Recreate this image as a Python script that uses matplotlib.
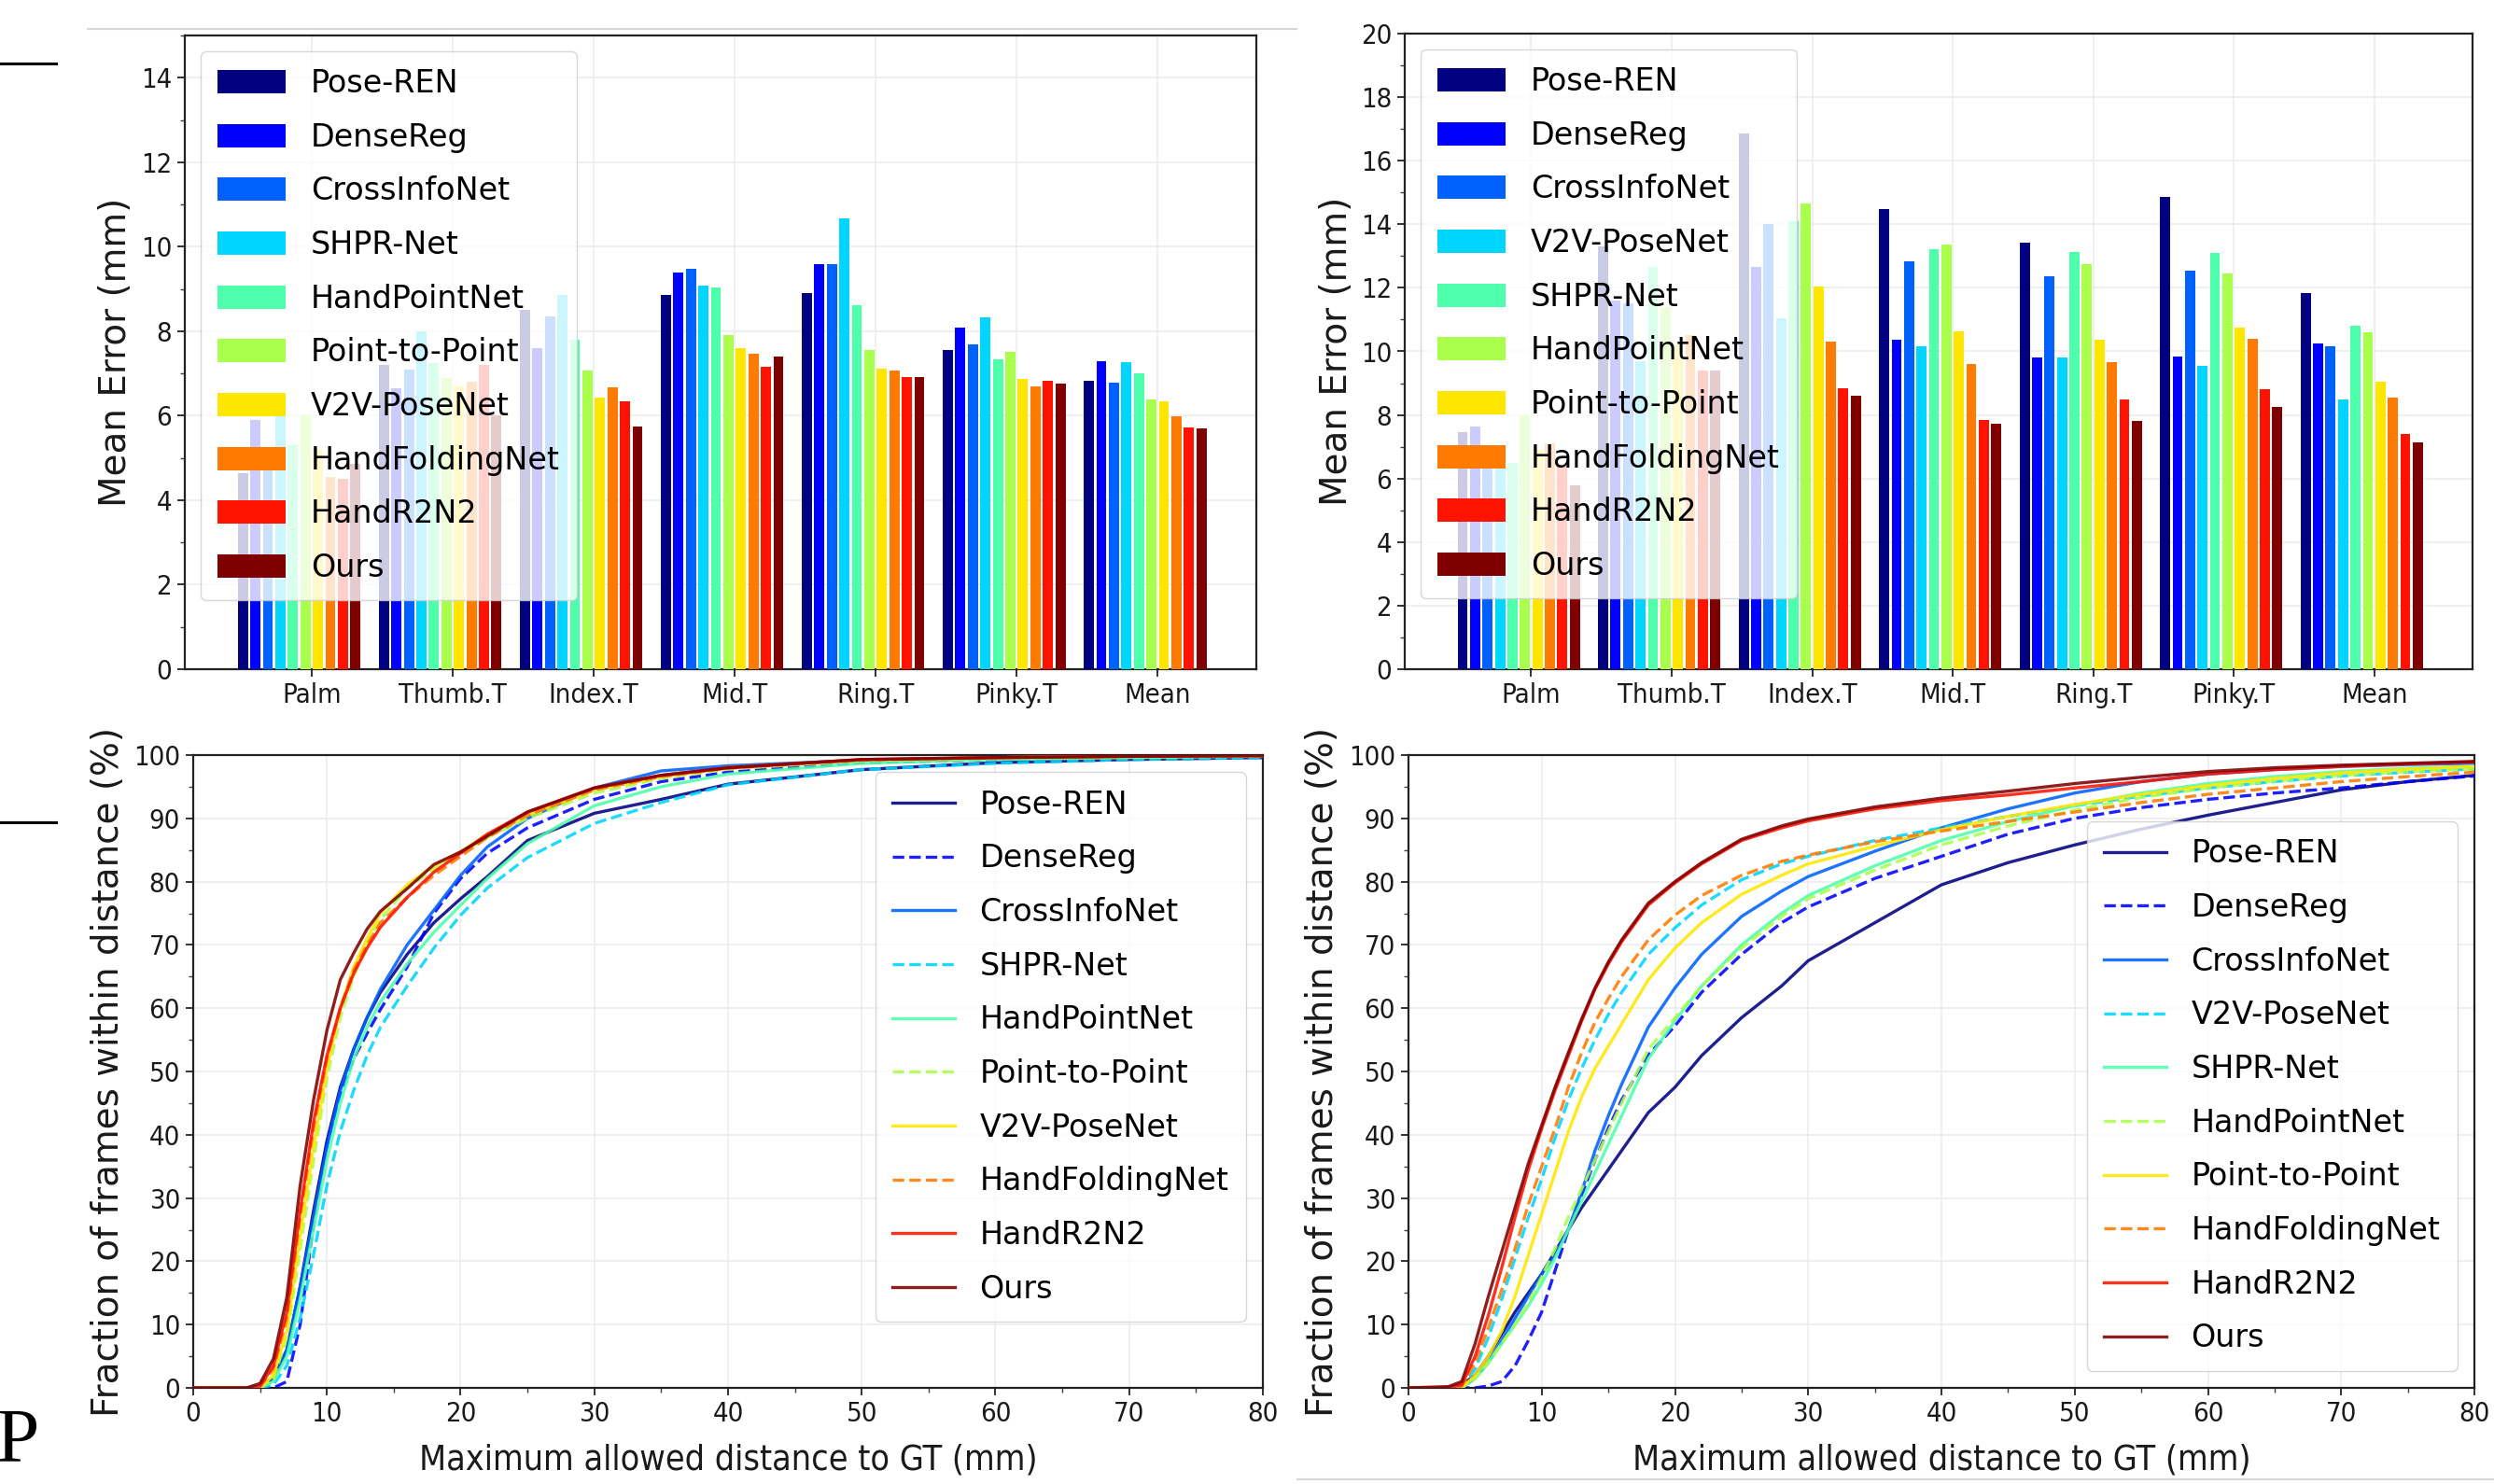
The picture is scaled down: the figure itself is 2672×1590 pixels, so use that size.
import numpy as np
import matplotlib
matplotlib.use("Agg")
import matplotlib.pyplot as plt
from matplotlib.lines import Line2D
from matplotlib.ticker import MultipleLocator
from matplotlib.font_manager import FontProperties

# ---------------- data ----------------
categories = ["Palm", "Thumb.T", "Index.T", "Mid.T", "Ring.T", "Pinky.T", "Mean"]

methods_left = ["Pose-REN", "DenseReg", "CrossInfoNet", "SHPR-Net", "HandPointNet",
                "Point-to-Point", "V2V-PoseNet", "HandFoldingNet", "HandR2N2", "Ours"]
methods_right = ["Pose-REN", "DenseReg", "CrossInfoNet", "V2V-PoseNet", "SHPR-Net",
                 "HandPointNet", "Point-to-Point", "HandFoldingNet", "HandR2N2", "Ours"]

# mean error per method (rows) and joint group (columns), left dataset
err_left = [
    [4.65, 7.20, 8.50, 8.85, 8.90, 7.55, 6.82],   # Pose-REN
    [5.90, 6.65, 7.60, 9.38, 9.58, 8.08, 7.30],   # DenseReg
    [5.20, 7.10, 8.35, 9.48, 9.58, 7.68, 6.78],   # CrossInfoNet
    [6.00, 8.00, 8.85, 9.08, 10.68, 8.33, 7.26],  # SHPR-Net
    [5.30, 7.25, 7.80, 9.03, 8.62, 7.34, 7.01],   # HandPointNet
    [6.00, 6.90, 7.06, 7.90, 7.55, 7.51, 6.38],   # Point-to-Point
    [5.20, 6.70, 6.42, 7.59, 7.12, 6.88, 6.34],   # V2V-PoseNet
    [4.55, 6.80, 6.68, 7.46, 7.07, 6.69, 5.98],   # HandFoldingNet
    [4.50, 7.20, 6.33, 7.16, 6.91, 6.82, 5.73],   # HandR2N2
    [4.85, 6.00, 5.74, 7.41, 6.91, 6.77, 5.69],   # Ours
]

# right dataset
err_right = [
    [7.45, 13.30, 16.85, 14.47, 13.41, 14.87, 11.85],  # Pose-REN
    [7.65, 11.60, 12.65, 10.38, 9.81, 9.85, 10.25],    # DenseReg
    [6.40, 11.50, 14.00, 12.84, 12.35, 12.54, 10.15],  # CrossInfoNet
    [6.30, 9.70, 11.05, 10.15, 9.81, 9.55, 8.50],      # V2V-PoseNet
    [6.50, 12.65, 14.10, 13.23, 13.13, 13.10, 10.80],  # SHPR-Net
    [8.00, 11.40, 14.65, 13.37, 12.76, 12.45, 10.60],  # HandPointNet
    [6.90, 10.20, 12.05, 10.63, 10.38, 10.75, 9.05],   # Point-to-Point
    [7.10, 10.50, 10.30, 9.59, 9.67, 10.40, 8.55],     # HandFoldingNet
    [6.40, 9.40, 8.85, 7.85, 8.50, 8.80, 7.40],        # HandR2N2
    [5.80, 9.40, 8.60, 7.71, 7.81, 8.25, 7.15],        # Ours
]

# cumulative curves, left dataset
dist_left = [0, 4, 5, 6, 7, 8, 9, 10, 11, 12, 13, 14, 16, 18, 20, 22, 25, 30, 35, 40, 50, 60, 70, 80]
frac_left = [
    [0, 0, 0.0, 1.5, 6.0, 16.0, 28.0, 39.0, 47.5, 53.5, 58.5, 62.5, 68.5, 73.5, 77.3, 80.8, 86.5, 90.8, 93.0, 95.4, 97.7, 98.8, 99.3, 99.6],  # Pose-REN
    [0, 0, 0.0, 0.0, 1.0, 10.0, 26.0, 38.5, 46.5, 52.0, 56.0, 59.8, 66.5, 75.0, 80.5, 84.5, 88.5, 93.0, 95.8, 97.3, 98.8, 99.3, 99.6, 99.8],  # DenseReg
    [0, 0, 0.0, 1.5, 6.0, 16.0, 27.0, 38.0, 47.0, 53.5, 58.5, 63.0, 70.0, 75.5, 81.0, 85.5, 90.0, 94.8, 97.5, 98.3, 99.2, 99.6, 99.8, 99.9],  # CrossInfoNet
    [0, 0, 0.0, 0.5, 3.5, 11.0, 21.0, 32.0, 40.5, 47.0, 52.5, 57.0, 63.5, 69.5, 74.7, 79.0, 83.8, 89.2, 92.5, 95.3, 97.7, 98.7, 99.3, 99.6],  # SHPR-Net
    [0, 0, 0.0, 1.0, 5.0, 14.0, 25.0, 36.0, 45.0, 52.0, 57.0, 61.0, 67.0, 72.0, 76.3, 80.5, 86.0, 92.0, 95.0, 97.0, 98.7, 99.3, 99.6, 99.8],  # HandPointNet
    [0, 0, 0.0, 1.5, 8.0, 22.0, 36.0, 49.0, 58.5, 65.0, 70.0, 74.0, 79.0, 82.0, 84.5, 87.0, 90.0, 94.0, 96.3, 97.8, 99.1, 99.5, 99.7, 99.9],  # Point-to-Point
    [0, 0, 0.0, 2.0, 9.0, 24.0, 38.0, 50.5, 60.0, 66.5, 71.0, 75.0, 79.5, 82.5, 84.7, 87.5, 90.5, 94.5, 96.6, 98.0, 99.2, 99.6, 99.8, 99.9],  # V2V-PoseNet
    [0, 0, 0.2, 3.0, 11.0, 27.0, 41.0, 52.0, 60.0, 66.0, 70.0, 73.5, 77.5, 81.0, 84.0, 87.0, 90.5, 94.5, 96.6, 97.9, 99.2, 99.6, 99.8, 99.9],  # HandFoldingNet
    [0, 0, 0.3, 3.5, 12.0, 28.0, 42.0, 52.5, 60.0, 65.5, 69.5, 72.8, 77.5, 81.5, 84.5, 87.5, 91.0, 94.8, 96.8, 98.0, 99.3, 99.6, 99.8, 99.9],  # HandR2N2
    [0, 0, 0.7, 4.6, 14.3, 32.0, 45.5, 56.5, 64.5, 68.7, 72.5, 75.3, 78.9, 82.7, 84.7, 87.2, 91.0, 94.8, 96.8, 98.0, 99.3, 99.6, 99.8, 99.9],  # Ours
]

# cumulative curves, right dataset
dist_right = [0, 3, 4, 5, 6, 7, 8, 9, 10, 11, 12, 13, 14, 15, 16, 18, 20, 22, 25, 28, 30, 35, 40, 45, 50, 55, 60, 65, 70, 75, 80]
frac_right = [
    [0, 0, 0.5, 2.0, 5.0, 8.5, 12.0, 15.0, 18.0, 21.5, 25.0, 28.5, 31.5, 34.5, 37.5, 43.5, 47.5, 52.5, 58.5, 63.5, 67.5, 73.5, 79.5, 83.0, 85.8, 88.3, 90.5, 92.5, 94.5, 95.8, 96.8],  # Pose-REN
    [0, 0, 0.0, 0.0, 0.3, 1.0, 3.5, 7.5, 12.0, 18.5, 25.0, 30.5, 36.0, 41.0, 45.5, 52.6, 57.2, 62.5, 68.5, 73.5, 76.0, 80.5, 84.0, 87.5, 90.0, 91.7, 93.0, 94.0, 94.8, 95.8, 96.7],  # DenseReg
    [0, 0, 0.0, 1.5, 4.0, 7.5, 11.0, 14.5, 18.0, 21.0, 25.0, 31.0, 37.5, 43.0, 48.0, 57.0, 63.2, 68.5, 74.5, 78.5, 80.8, 84.8, 88.5, 91.5, 94.0, 95.8, 97.0, 97.7, 98.2, 98.5, 98.7],  # CrossInfoNet
    [0, 0, 0.2, 3.0, 8.0, 14.0, 20.5, 27.0, 33.0, 39.5, 45.5, 50.5, 55.0, 59.0, 62.5, 68.5, 72.7, 76.3, 80.3, 82.8, 84.0, 86.5, 88.5, 90.3, 92.0, 93.5, 94.8, 95.8, 96.7, 97.3, 97.8],  # V2V-PoseNet
    [0, 0, 0.0, 1.5, 4.0, 7.0, 10.0, 13.0, 16.5, 20.5, 25.0, 29.5, 34.0, 38.5, 43.0, 52.0, 58.0, 63.5, 70.0, 75.0, 77.8, 82.5, 86.5, 89.5, 92.0, 94.0, 95.5, 96.6, 97.4, 97.9, 98.2],  # SHPR-Net
    [0, 0, 0.0, 1.5, 4.0, 7.0, 10.0, 13.5, 17.5, 22.0, 27.0, 31.5, 36.0, 40.5, 45.0, 53.5, 58.5, 63.5, 69.5, 74.5, 77.3, 81.8, 85.8, 88.8, 91.3, 93.3, 94.8, 95.9, 96.8, 97.4, 97.8],  # HandPointNet
    [0, 0, 0.0, 2.0, 5.0, 9.0, 14.5, 21.0, 27.5, 34.0, 40.5, 46.0, 50.5, 54.0, 57.5, 64.5, 69.5, 73.5, 78.0, 81.0, 82.8, 85.6, 88.2, 90.3, 92.2, 93.8, 95.2, 96.3, 97.2, 97.8, 98.2],  # Point-to-Point
    [0, 0, 0.3, 4.0, 9.5, 15.5, 22.0, 29.0, 35.0, 41.0, 47.5, 53.0, 57.8, 61.5, 65.0, 70.8, 74.7, 77.8, 81.0, 83.2, 84.2, 86.3, 88.0, 89.5, 91.0, 92.5, 93.8, 94.8, 95.8, 96.6, 97.3],  # HandFoldingNet
    [0, 0, 0.5, 5.0, 11.5, 19.0, 27.0, 34.5, 41.0, 47.0, 52.5, 58.0, 63.0, 67.0, 70.5, 76.3, 79.8, 82.8, 86.5, 88.5, 89.6, 91.5, 92.8, 93.7, 94.8, 95.8, 97.0, 97.7, 98.2, 98.6, 98.9],  # HandR2N2
    [0, 0.2, 1.0, 7.0, 14.5, 21.5, 28.5, 35.5, 41.5, 47.5, 53.0, 58.3, 63.2, 67.3, 70.8, 76.6, 80.0, 83.0, 86.7, 88.8, 89.9, 91.8, 93.2, 94.3, 95.5, 96.5, 97.4, 98.0, 98.4, 98.7, 99.0],  # Ours
]

line_styles = ["-", "--", "-", "--", "-", "--", "-", "--", "-", "-"]

# ---------------- style ----------------
plt.rcParams["font.family"] = ["DejaVu Sans"]
colors = plt.cm.jet(np.linspace(0, 1, 10))

W, H = 2672, 1590
fig = plt.figure(figsize=(W / 100, H / 100), dpi=100)


def frac_box(left, top, right, bottom):
    return [left / W, 1 - bottom / H, (right - left) / W, (bottom - top) / H]


tick_fp = FontProperties(family="DejaVu Sans", stretch="condensed", size=21)
legend_fp = FontProperties(family="DejaVu Sans", size=24)


def style_axes(ax):
    for s in ax.spines.values():
        s.set_color("#222222")
        s.set_linewidth(1.6)
    ax.tick_params(which="major", length=6, width=1.3, color="#222222", pad=4)
    ax.tick_params(which="minor", length=3.5, width=1.0, color="#444444")
    ax.set_axisbelow(True)
    ax.grid(True, which="major", color="#ececec", linewidth=1.2)
    for lab in ax.get_xticklabels() + ax.get_yticklabels():
        lab.set_fontproperties(tick_fp)
        lab.set_color("#1a1a1a")


def bar_panel(box, methods, err, ytop, ystep, ylab_x):
    ax = fig.add_axes(frac_box(*box))
    g = np.arange(len(categories))
    slot = 0.0887
    for i, m in enumerate(methods):
        ax.bar(g + (i - 5.5) * slot, err[i], width=0.072, color=colors[i],
               label=m, zorder=3)
    ax.set_xlim(-0.9, 6.7)
    ax.set_ylim(0, ytop)
    ax.set_xticks(g)
    ax.set_xticklabels(categories)
    ax.yaxis.set_major_locator(MultipleLocator(ystep))
    ax.yaxis.set_minor_locator(MultipleLocator(1))
    ax.set_ylabel("Mean Error (mm)", fontsize=28, color="#1a1a1a")
    ax.yaxis.set_label_coords(ylab_x, 0.5)
    style_axes(ax)
    ax.legend(loc="upper left", prop=legend_fp, handlelength=2.2, handleheight=0.78,
              labelspacing=0.74, borderaxespad=0.5, borderpad=0.55)
    return ax


def curve_panel(box, methods, dist, frac, loc, ylab_x):
    ax = fig.add_axes(frac_box(*box))
    for i, m in enumerate(methods):
        ax.plot(dist, frac[i], linestyle=line_styles[i], color=colors[i],
                lw=2.4, alpha=0.88, label=m, zorder=3)
    ax.set_xlim(0, 80)
    ax.set_ylim(0, 100)
    ax.xaxis.set_major_locator(MultipleLocator(10))
    ax.xaxis.set_minor_locator(MultipleLocator(5))
    ax.yaxis.set_major_locator(MultipleLocator(10))
    ax.yaxis.set_minor_locator(MultipleLocator(5))
    ax.set_ylabel("Fraction of frames within distance (%)", fontsize=28, color="#1a1a1a")
    ax.yaxis.set_label_coords(ylab_x, 0.5)
    ax.set_xlabel("Maximum allowed distance to GT (mm)", fontsize=27,
                  fontstretch="condensed", color="#1a1a1a")
    ax.xaxis.set_label_coords(0.5, -0.088)
    style_axes(ax)
    ax.legend(loc=loc, prop=legend_fp, handlelength=2.0,
              labelspacing=0.74, borderaxespad=0.55, borderpad=0.55)
    return ax


bar_panel((198, 38, 1346, 717), methods_left, err_left, 15, 2, -0.048)
bar_panel((1505, 36, 2649, 717), methods_right, err_right, 20, 2, -0.047)
curve_panel((207, 809, 1353, 1487), methods_left, dist_left, frac_left, "upper right", -0.063)
curve_panel((1509, 809, 2651, 1487), methods_right, dist_right, frac_right, "lower right", -0.064)

# page fragments visible around the panels
fig.add_artist(Line2D([94 / W, 1389 / W], [1 - 31 / H] * 2, color="#d6d6d6", lw=1.5))
fig.add_artist(Line2D([0, 60 / W], [1 - 68 / H] * 2, color="black", lw=2.2))
fig.add_artist(Line2D([0, 60 / W], [1 - 881 / H] * 2, color="black", lw=2.2))
fig.add_artist(Line2D([1390 / W, 2672 / W], [1 - 1585 / H] * 2, color="#d6d6d6", lw=1.5))
fig.text(-4 / W, 1 - 1565 / H, "P", fontsize=60, family="Liberation Serif",
         va="baseline", ha="left", color="black")

fig.savefig("out.png", dpi=100)
